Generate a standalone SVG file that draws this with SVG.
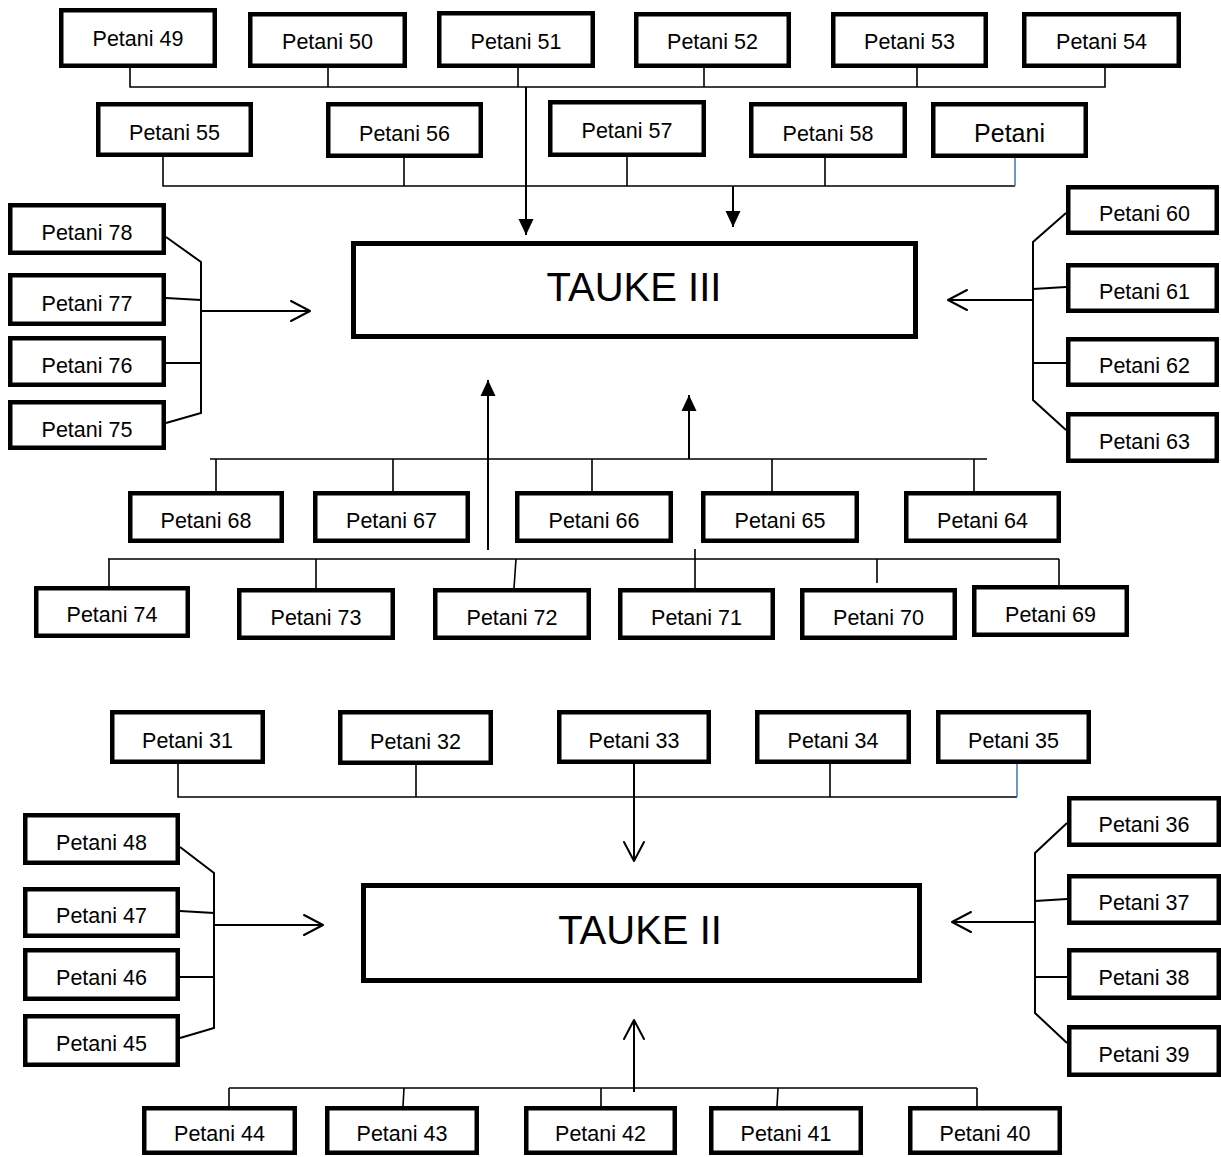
<svg xmlns="http://www.w3.org/2000/svg" width="1221" height="1157" viewBox="0 0 1221 1157">
<style>
.box{fill:#fff;stroke:#000;stroke-width:4.5}
.big{fill:#fff;stroke:#000;stroke-width:5}
.t{font-family:"Liberation Sans",Arial,sans-serif;font-size:21.5px;fill:#000;text-anchor:middle}
.t2{font-family:"Liberation Sans",Arial,sans-serif;font-size:25px;fill:#000;text-anchor:middle}
.tk{font-family:"Liberation Sans",Arial,sans-serif;font-size:40px;fill:#000;text-anchor:middle}
.c{fill:none;stroke:#000;stroke-width:1.6}
.b{fill:none;stroke:#000;stroke-width:2}
.blue{fill:none;stroke:#4a7ebb;stroke-width:1.6}
.af{fill:none;stroke:#000;stroke-width:2;marker-end:url(#fill)}
.ao{fill:none;stroke:#000;stroke-width:2;marker-end:url(#open)}
</style>
<defs>
<marker id="fill" markerUnits="userSpaceOnUse" markerWidth="17" markerHeight="15" refX="16" refY="7.5" orient="auto" overflow="visible">
<path d="M0,0 L16,7.5 L0,15 z" fill="#000"/>
</marker>
<marker id="open" markerUnits="userSpaceOnUse" markerWidth="22" markerHeight="24" refX="20" refY="11" orient="auto" overflow="visible">
<path d="M1,1 L20,11 L1,21" fill="none" stroke="#000" stroke-width="2" stroke-linecap="round" stroke-linejoin="round"/>
</marker>
</defs>
<rect width="1221" height="1157" fill="#fff"/>

<g id="connectors">
<path class="c" d="M130,68 V87 H1105 V68 M328,68 V87 M518,68 V87 M704,68 V87 M917,68 V87"/>
<path class="c" d="M163,157 V186 H1015 M404,158 V186 M627,157 V186 M825,158 V186"/>
<path class="blue" d="M1015,158 V186"/>
<path class="af" d="M526,87 V235"/>
<path class="af" d="M733,186 V227"/>
<path class="b" d="M166,237 L201,262 V413 L166,423 M166,298 L201,300 M166,363 H201"/>
<path class="ao" d="M201,311 H310"/>
<path class="b" d="M1066,213 L1033,242 V400 L1066,430 M1066,287 L1033,289 M1066,363 H1033"/>
<path class="ao" d="M1033,300 H948"/>
<path class="c" d="M210,459 H987 M216,459 V491 M393,459 V491 M592,459 V491 M772,459 V491 M974,459 V491"/>
<path class="c" d="M108,559 H1059 M109,559 V588 M316,559 V588 M516,559 L514,588 M695,549 V588 M877,559 V583 M1059,559 V586"/>
<path class="af" d="M488,550 V380"/>
<path class="af" d="M689,459 V395"/>
<path class="c" d="M178,764 V797 H1017 M416,764 V797 M830,764 V797"/>
<path class="blue" d="M1017,764 V797"/>
<path class="ao" d="M634,764 V861"/>
<path class="b" d="M180,847 L214,873 V1028 L180,1038 M180,911 L214,913 M180,977 H214"/>
<path class="ao" d="M214,925 H323"/>
<path class="b" d="M1067,823 L1035,853 V1013 L1067,1043 M1067,899 L1035,901 M1067,977 H1035"/>
<path class="ao" d="M1035,922 H952"/>
<path class="c" d="M229,1088 H977 M229,1088 V1106 M404,1088 L403,1106 M601,1088 V1106 M778,1088 L777,1106 M977,1088 V1106"/>
<path class="ao" d="M634,1092 V1020"/>
</g>

<g id="tauke3"><rect class="big" x="353.5" y="243.5" width="562" height="93"/><text class="tk" x="634" y="301">TAUKE III</text></g>
<g id="tauke2"><rect class="big" x="363.5" y="885.5" width="556" height="95"/><text class="tk" x="640" y="944">TAUKE II</text></g>

<g id="p49"><rect class="box" x="61.25" y="10.25" width="153.5" height="55.5"/><text class="t" x="138" y="46">Petani 49</text></g>
<g id="p50"><rect class="box" x="250.25" y="14.25" width="154.5" height="51.5"/><text class="t" x="327.5" y="49">Petani 50</text></g>
<g id="p51"><rect class="box" x="439.25" y="13.25" width="153.5" height="52.5"/><text class="t" x="516" y="48.5">Petani 51</text></g>
<g id="p52"><rect class="box" x="636.25" y="14.25" width="152.5" height="51.5"/><text class="t" x="712.5" y="49">Petani 52</text></g>
<g id="p53"><rect class="box" x="833.25" y="14.25" width="152.5" height="51.5"/><text class="t" x="909.5" y="49">Petani 53</text></g>
<g id="p54"><rect class="box" x="1024.25" y="14.25" width="154.5" height="51.5"/><text class="t" x="1101.5" y="49">Petani 54</text></g>

<g id="p55"><rect class="box" x="98.25" y="104.25" width="152.5" height="50.5"/><text class="t" x="174.5" y="140">Petani 55</text></g>
<g id="p56"><rect class="box" x="328.25" y="104.25" width="152.5" height="51.5"/><text class="t" x="404.5" y="140.5">Petani 56</text></g>
<g id="p57"><rect class="box" x="550.25" y="102.25" width="153.5" height="52.5"/><text class="t" x="627" y="138">Petani 57</text></g>
<g id="p58"><rect class="box" x="751.25" y="104.25" width="153.5" height="51.5"/><text class="t" x="828" y="140.5">Petani 58</text></g>
<g id="p59"><rect class="box" x="933.25" y="104.25" width="152.5" height="51.5"/><text class="t2" x="1009.5" y="142">Petani</text></g>

<g id="p78"><rect class="box" x="10.25" y="205.25" width="153.5" height="47.5"/><text class="t" x="87" y="240">Petani 78</text></g>
<g id="p77"><rect class="box" x="10.25" y="275.25" width="153.5" height="48.5"/><text class="t" x="87" y="310.5">Petani 77</text></g>
<g id="p76"><rect class="box" x="10.25" y="338.25" width="153.5" height="46.5"/><text class="t" x="87" y="372.5">Petani 76</text></g>
<g id="p75"><rect class="box" x="10.25" y="402.25" width="153.5" height="45.5"/><text class="t" x="87" y="437">Petani 75</text></g>

<g id="p60"><rect class="box" x="1068.25" y="187.25" width="148.5" height="45.5"/><text class="t" x="1144.5" y="221">Petani 60</text></g>
<g id="p61"><rect class="box" x="1068.25" y="265.25" width="148.5" height="45.5"/><text class="t" x="1144.5" y="299">Petani 61</text></g>
<g id="p62"><rect class="box" x="1068.25" y="339.25" width="148.5" height="45.5"/><text class="t" x="1144.5" y="373">Petani 62</text></g>
<g id="p63"><rect class="box" x="1068.25" y="414.25" width="148.5" height="46.5"/><text class="t" x="1144.5" y="448.5">Petani 63</text></g>

<g id="p68"><rect class="box" x="130.25" y="493.25" width="151.5" height="47.5"/><text class="t" x="206" y="528">Petani 68</text></g>
<g id="p67"><rect class="box" x="315.25" y="493.25" width="152.5" height="47.5"/><text class="t" x="391.5" y="528">Petani 67</text></g>
<g id="p66"><rect class="box" x="517.25" y="493.25" width="153.5" height="47.5"/><text class="t" x="594" y="528">Petani 66</text></g>
<g id="p65"><rect class="box" x="703.25" y="493.25" width="153.5" height="47.5"/><text class="t" x="780" y="528">Petani 65</text></g>
<g id="p64"><rect class="box" x="906.25" y="493.25" width="152.5" height="47.5"/><text class="t" x="982.5" y="528">Petani 64</text></g>

<g id="p74"><rect class="box" x="36.25" y="588.25" width="151.5" height="47.5"/><text class="t" x="112" y="622">Petani 74</text></g>
<g id="p73"><rect class="box" x="239.25" y="590.25" width="153.5" height="47.5"/><text class="t" x="316" y="624.5">Petani 73</text></g>
<g id="p72"><rect class="box" x="435.25" y="590.25" width="153.5" height="47.5"/><text class="t" x="512" y="624.5">Petani 72</text></g>
<g id="p71"><rect class="box" x="620.25" y="590.25" width="152.5" height="47.5"/><text class="t" x="696.5" y="624.5">Petani 71</text></g>
<g id="p70"><rect class="box" x="802.25" y="590.25" width="152.5" height="47.5"/><text class="t" x="878.5" y="624.5">Petani 70</text></g>
<g id="p69"><rect class="box" x="974.25" y="587.25" width="152.5" height="47.5"/><text class="t" x="1050.5" y="621.5">Petani 69</text></g>

<g id="p31"><rect class="box" x="112.25" y="712.25" width="150.5" height="49.5"/><text class="t" x="187.5" y="748">Petani 31</text></g>
<g id="p32"><rect class="box" x="340.25" y="712.25" width="150.5" height="50.5"/><text class="t" x="415.5" y="748.5">Petani 32</text></g>
<g id="p33"><rect class="box" x="559.25" y="712.25" width="149.5" height="49.5"/><text class="t" x="634" y="748">Petani 33</text></g>
<g id="p34"><rect class="box" x="757.25" y="712.25" width="151.5" height="49.5"/><text class="t" x="833" y="748">Petani 34</text></g>
<g id="p35"><rect class="box" x="938.25" y="712.25" width="150.5" height="49.5"/><text class="t" x="1013.5" y="748">Petani 35</text></g>

<g id="p48"><rect class="box" x="25.25" y="815.25" width="152.5" height="47.5"/><text class="t" x="101.5" y="849.5">Petani 48</text></g>
<g id="p47"><rect class="box" x="25.25" y="889.25" width="152.5" height="46.5"/><text class="t" x="101.5" y="923">Petani 47</text></g>
<g id="p46"><rect class="box" x="25.25" y="950.25" width="152.5" height="48.5"/><text class="t" x="101.5" y="985">Petani 46</text></g>
<g id="p45"><rect class="box" x="25.25" y="1016.25" width="152.5" height="48.5"/><text class="t" x="101.5" y="1051">Petani 45</text></g>

<g id="p36"><rect class="box" x="1069.25" y="798.25" width="149.5" height="46.5"/><text class="t" x="1144" y="832">Petani 36</text></g>
<g id="p37"><rect class="box" x="1069.25" y="876.25" width="149.5" height="46.5"/><text class="t" x="1144" y="910">Petani 37</text></g>
<g id="p38"><rect class="box" x="1069.25" y="950.25" width="149.5" height="47.5"/><text class="t" x="1144" y="984.5">Petani 38</text></g>
<g id="p39"><rect class="box" x="1069.25" y="1027.25" width="149.5" height="47.5"/><text class="t" x="1144" y="1061.5">Petani 39</text></g>

<g id="p44"><rect class="box" x="144.25" y="1108.25" width="150.5" height="44.5"/><text class="t" x="219.5" y="1141">Petani 44</text></g>
<g id="p43"><rect class="box" x="327.25" y="1108.25" width="149.5" height="44.5"/><text class="t" x="402" y="1141">Petani 43</text></g>
<g id="p42"><rect class="box" x="526.25" y="1108.25" width="148.5" height="44.5"/><text class="t" x="600.5" y="1141">Petani 42</text></g>
<g id="p41"><rect class="box" x="711.25" y="1108.25" width="149.5" height="44.5"/><text class="t" x="786" y="1141">Petani 41</text></g>
<g id="p40"><rect class="box" x="910.25" y="1108.25" width="149.5" height="44.5"/><text class="t" x="985" y="1141">Petani 40</text></g>
</svg>
